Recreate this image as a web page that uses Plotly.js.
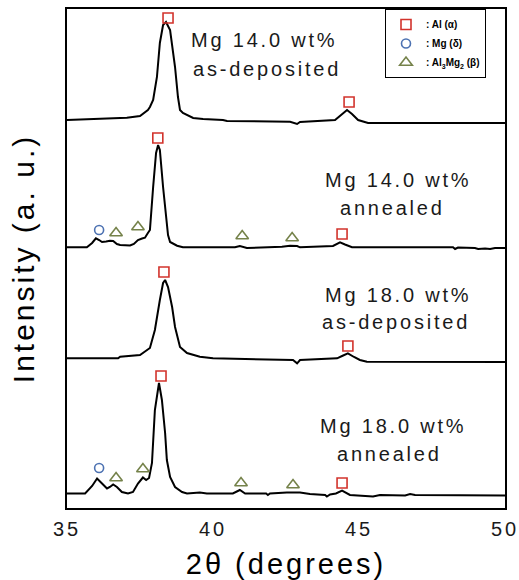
<!DOCTYPE html>
<html>
<head>
<meta charset="utf-8">
<script src="https://cdn.plot.ly/plotly-3.0.1.min.js"></script>
<style>
  html, body { margin: 0; padding: 0; background: #fff; }
  #chart { width: 519px; height: 580px; }
  .annotation-text { letter-spacing: 2.8px; }
  .xtick text { letter-spacing: 3px; }
  .xtitle, .ytitle { letter-spacing: 3px; }
</style>
</head>
<body>
<div id="chart"></div>
<script>
// ---- Data (2θ in degrees, intensity in arbitrary units above each pattern's baseline) ----
const sampleNames = ["Mg 14.0 wt% as-deposited", "Mg 14.0 wt% annealed", "Mg 18.0 wt% as-deposited", "Mg 18.0 wt% annealed"];
const stackOffsets = [385, 260, 146, 13];

const twoTheta1 = [35.00, 35.89, 36.37, 37.05, 37.50, 37.77, 37.84, 37.95, 38.08, 38.18, 38.29, 38.39, 38.53, 38.70, 38.80, 38.87, 38.97, 39.32, 39.66, 40.34, 40.48, 40.58, 42.64, 42.88, 42.98, 44.18, 44.38, 44.59, 44.76, 44.97, 45.31, 50.00];
const intensity1 = [3, 4, 4, 5.3, 7, 13, 16, 23, 46, 80, 98, 101, 93, 56, 26, 13, 10, 5, 4, 3, 2, 2, 1.3, -1, 1, 3, 8, 13, 9, 3, 0, 0];

const twoTheta2 = [35.00, 35.68, 35.86, 35.99, 36.10, 36.20, 36.34, 36.47, 36.58, 36.71, 36.82, 37.16, 37.29, 37.43, 37.57, 37.67, 37.77, 37.84, 37.95, 38.05, 38.12, 38.18, 38.29, 38.39, 38.46, 38.53, 38.77, 38.97, 40.75, 40.92, 41.16, 42.36, 42.64, 42.88, 42.98, 44.11, 44.35, 44.52, 44.76, 48.22, 48.29, 48.39, 48.97, 49.08, 49.32, 49.49, 49.66, 50.00];
const intensity2 = [0.7, 0.7, 5, 9.7, 8, 6, 6.5, 7.3, 7, 4, 3, 2.5, 4, 8, 9.5, 10.3, 15, 18, 61, 95, 103, 98, 61, 28, 13, 6, 2.3, 0.7, 0.7, 2, 0, 1.3, 2.3, 2, 0.7, 2, 5.7, 3.5, 0.7, 0.7, -1, 0.5, 0, -1, -0.5, -1, 0, 0];

const twoTheta3 = [35.00, 36.75, 36.82, 37.50, 37.84, 38.01, 38.18, 38.29, 38.36, 38.46, 38.60, 38.70, 38.87, 39.11, 39.55, 40.00, 42.74, 42.88, 42.98, 44.25, 44.42, 44.62, 44.83, 45.03, 45.27, 50.00];
const intensity3 = [3.7, 3.7, 5.3, 7, 14, 32, 62, 79, 82, 75, 55, 35, 15, 9, 5.3, 3.7, 2, -1.3, 2, 3.7, 6, 8.7, 5, 2, 0.3, 0];

const twoTheta4 = [35.00, 35.62, 35.86, 36.03, 36.20, 36.37, 36.47, 36.58, 36.71, 36.88, 37.09, 37.26, 37.43, 37.60, 37.71, 37.81, 37.91, 37.95, 38.01, 38.15, 38.25, 38.36, 38.42, 38.53, 38.70, 38.94, 39.11, 39.55, 39.79, 40.68, 40.92, 41.10, 41.82, 41.88, 41.95, 42.53, 42.98, 43.32, 43.84, 43.90, 44.01, 44.21, 44.42, 44.69, 45.48, 45.72, 46.58, 46.75, 46.92, 50.00];
const intensity4 = [1.5, 1.5, 9, 16.5, 11.5, 6.5, 8, 10.5, 8, 3, 1.5, 3, 11.5, 17.5, 15, 17, 32, 52, 85, 112, 95, 62, 35, 18, 8, 3, 1.5, 2.5, 1.5, 1.5, 5, 1.5, 1.5, 0, 1.5, 2.5, 2.5, 1, 0, -1.5, 0.5, 1.5, 4.3, 0, -1.5, 0, -0.5, 1, 0, -0.5];

// Phase markers (2θ, stacked intensity level)
const alTheta = [38.46, 44.66, 38.11, 44.42, 38.32, 44.62, 38.22, 44.42];
const alLevel = [490, 406, 370, 274, 236, 162, 132, 25];
const mgTheta = [36.10, 36.10];
const mgLevel = [278, 40];
const betaTheta = [36.68, 37.43, 41.00, 42.71, 36.68, 37.60, 40.96, 42.74];
const betaLevel = [275, 281, 272, 270, 30, 39, 25, 23];

const xTicks = [35, 40, 45, 50];
const phaseNames = [": Al (α)", ": Mg (δ)", ": Al<sub>3</sub>Mg<sub>2</sub> (β)"];
const labelLines = [["Mg 14.0 wt%", "as-deposited"], ["Mg 14.0 wt%", "annealed"], ["Mg 18.0 wt%", "as-deposited"], ["Mg 18.0 wt%", "annealed"]];

// ---- Build ----
const thetas = [twoTheta1, twoTheta2, twoTheta3, twoTheta4];
const intens = [intensity1, intensity2, intensity3, intensity4];
const traces = thetas.map((t, i) => ({
  type: "scatter", mode: "lines", x: t,
  y: intens[i].map(v => v + stackOffsets[i]),
  name: sampleNames[i], showlegend: false,
  line: {color: "#000", width: 2}, hoverinfo: "skip"
}));
traces.push({type: "scatter", mode: "markers", x: alTheta, y: alLevel, name: phaseNames[0],
  marker: {symbol: "square-open", size: 10, color: "#d2332c", line: {width: 1.6}}});
traces.push({type: "scatter", mode: "markers", x: mgTheta, y: mgLevel, name: phaseNames[1],
  marker: {symbol: "circle-open", size: 9, color: "#4d72b2", line: {width: 1.6}}});
traces.push({type: "scatter", mode: "markers", x: betaTheta, y: betaLevel, name: phaseNames[2],
  marker: {symbol: "triangle-up-open", size: 11, color: "#75824a", line: {width: 1.6}}});

// label positions (pixel-based helpers)
const PX = px => 35 + (px - 67) / 29.2;
const PY = py => 508 - py;
const labelPos = [[[264, 40], [267, 69]], [[398, 180], [392, 208]], [[398, 295], [396, 322]], [[393, 426], [389, 454]]];
const annotations = [];
labelLines.forEach((lines, i) => {
  lines.forEach((txt, j) => {
    annotations.push({
      text: txt, x: PX(labelPos[i][j][0]), y: PY(labelPos[i][j][1]), xref: "x", yref: "y",
      xanchor: "center", yanchor: "middle", showarrow: false,
      font: {family: "Liberation Sans, Arial, sans-serif", size: 20, color: "#1a1a1a"}
    });
  });
});

const layout = {
  width: 519, height: 580,
  margin: {l: 67, r: 14, t: 9, b: 72},
  paper_bgcolor: "#fff", plot_bgcolor: "#fff",
  showlegend: true,
  legend: {
    x: (385 - 67) / 438, y: 1, xanchor: "left", yanchor: "top",
    bgcolor: "#fff", bordercolor: "#000", borderwidth: 1,
    font: {family: "Liberation Sans, Arial, sans-serif", size: 10, color: "#000", weight: "bold"},
    itemwidth: 30, tracegroupgap: 0
  },
  xaxis: {
    range: [35, 50], tickvals: xTicks, ticktext: xTicks.map(String), ticks: "",
    showline: true, mirror: true, linecolor: "#000", linewidth: 2,
    showgrid: false, zeroline: false, ticklabelstandoff: 2, ticklabeloverflow: "allow",
    tickfont: {family: "Liberation Sans, Arial, sans-serif", size: 20, color: "#1a1a1a"},
    title: {text: "2θ (degrees)", standoff: 17,
      font: {family: "Liberation Sans, Arial, sans-serif", size: 29, color: "#000"}}
  },
  yaxis: {
    range: [0, 499], showticklabels: false, ticks: "",
    showline: true, mirror: true, linecolor: "#000", linewidth: 2,
    showgrid: false, zeroline: false,
    title: {text: "Intensity (a. u.)", standoff: 22,
      font: {family: "Liberation Sans, Arial, sans-serif", size: 30, color: "#000"}}
  },
  annotations: annotations
};

Plotly.newPlot("chart", traces, layout, {displayModeBar: false, staticPlot: true});
</script>
</body>
</html>
